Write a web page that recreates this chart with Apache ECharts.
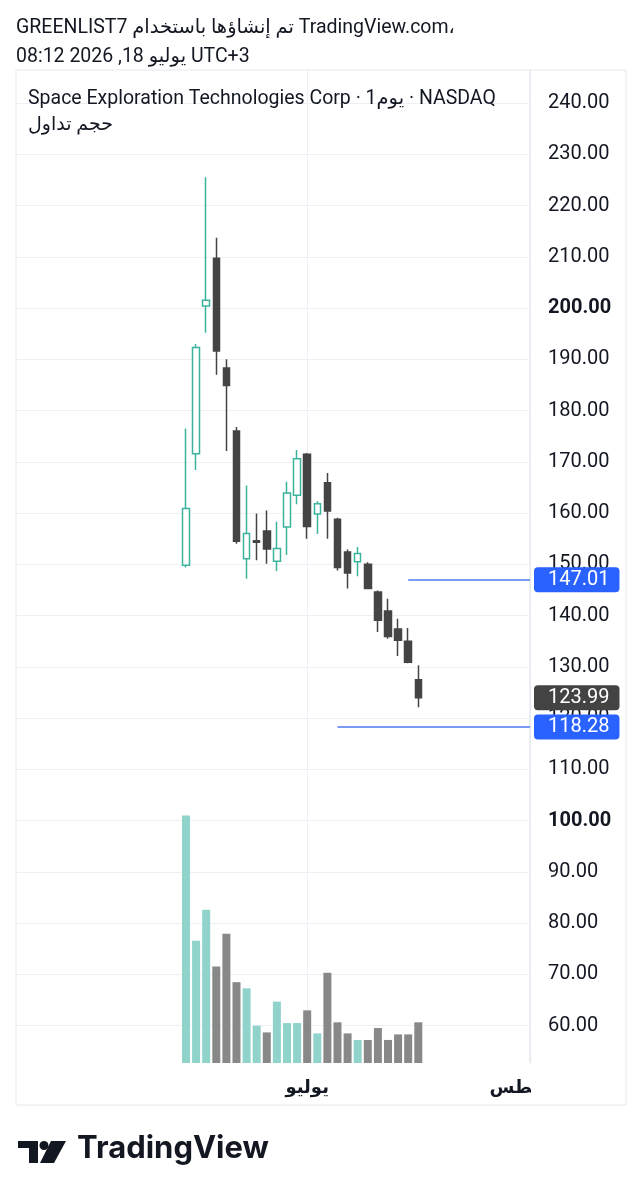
<!DOCTYPE html>
<html>
<head>
<meta charset="utf-8">
<script src="https://cdn.jsdelivr.net/npm/echarts@6/dist/echarts.min.js"></script>
<style>
  html, body { margin: 0; padding: 0; background: #fff; }
  #chart { width: 642px; height: 1200px; }
</style>
</head>
<body>
<div id="chart"></div>
<script>
// daily candles, index 0 = 2026-06-12
const dates = ['06-12','06-15','06-16','06-17','06-18','06-22','06-23','06-24','06-25','06-26','06-29','06-30',
               '07-01','07-02','07-06','07-07','07-08','07-09','07-10','07-13','07-14','07-15','07-16','07-17'];
const opens  = [149.8,171.6,200.4,209.7,188.3,176.0,151.1,154.6,156.5,150.6,157.3,163.5,171.5,159.8,165.9,158.8,152.4,150.5,150.0,144.6,140.9,137.4,135.0,127.5];
const closes = [160.9,192.3,201.5,191.6,184.9,154.5,156.0,154.3,153.0,153.1,163.9,170.6,157.4,161.8,160.4,149.4,148.3,152.1,145.3,139.1,135.9,135.2,130.9,123.99];
const lows   = [149.4,168.4,195.2,187.0,172.1,154.0,147.2,150.8,150.1,148.7,151.8,161.7,155.0,155.9,155.0,148.8,145.3,147.7,145.2,136.8,135.5,132.1,130.7,122.1];
const highs  = [176.5,193.0,225.5,213.7,190.0,176.8,165.4,159.9,160.5,158.3,166.1,172.3,171.7,162.3,167.8,159.1,152.9,153.4,150.4,144.9,143.3,139.4,137.6,130.3];
// volume (millions) and its up/down colour flag as shown by the volume study
const volumes  = [124.6,61.6,77.2,48.6,65.1,40.7,37.6,18.8,15.4,30.9,20.1,20.1,26.5,14.9,45.5,20.5,14.9,11.6,11.6,17.6,11.6,14.4,14.4,20.5];
const volumeUp = [1,1,1,0,0,0,1,1,0,1,1,1,0,1,0,0,0,1,0,0,0,0,0,0];

const priceTicks = [60,70,80,90,100,110,120,130,140,150,160,170,180,190,200,210,220,230,240];
const monthIdx   = [12, 34];            // 1 July, 3 August
const monthNames = ['يوليو', 'أغسطس'];

// horizontal ray levels and the candle they start from
const levels     = [147.01, 118.28];
const levelStart = [22, 15];

const xMin = -16.83, xMax = 34.06;
const FONT = 'Roboto, "DejaVu Sans", sans-serif';
const UP = '#3bb39d', DOWN = '#444444';

let myChart = echarts.init(document.getElementById('chart'));

let candleData = dates.map((d, i) => [i, opens[i], closes[i], lows[i], highs[i]]);
let volData = volumes.map((v, i) => ({
    value: [i, v],
    itemStyle: { color: volumeUp[i] ? '#8fd3cb' : '#888888' }
}));

let lastClose = closes[closes.length - 1];
let markData = levels.map((lv, k) => [
    { coord: [levelStart[k], lv], label: { formatter: lv.toFixed(2) } },
    { coord: [xMax, lv] }
]);
markData.push({
    yAxis: lastClose,
    lineStyle: { color: 'rgba(0,0,0,0)' },
    label: { formatter: lastClose.toFixed(2), backgroundColor: '#434343' }
});

let option = {
    animation: false,
    backgroundColor: '#ffffff',
    textStyle: { fontFamily: FONT },
    grid: { left: 16, right: 112, top: 70, bottom: 137 },
    xAxis: {
        type: 'value',
        min: xMin,
        max: xMax,
        axisLine: { show: false, onZero: false },
        axisTick: { show: false, customValues: monthIdx },
        splitLine: { show: true, lineStyle: { color: '#eef0f5', width: 1 } },
        axisLabel: {
            customValues: monthIdx,
            margin: 16,
            fontSize: 18,
            fontWeight: 'bold',
            color: '#131722',
            fontFamily: FONT,
            formatter: function (v) { return monthNames[monthIdx.indexOf(v)]; }
        }
    },
    yAxis: [
        {
            type: 'value',
            position: 'right',
            min: 52.72,
            max: 246.44,
            axisLine: { show: true, onZero: false, lineStyle: { color: '#e6e8ee' } },
            axisTick: { show: false, customValues: priceTicks },
            splitLine: { show: true, lineStyle: { color: '#eef0f5', width: 1 } },
            axisLabel: {
                customValues: priceTicks,
                margin: 18,
                fontSize: 20,
                color: '#131722',
                fontFamily: FONT,
                formatter: function (v) {
                    let s = v.toFixed(2);
                    return v % 100 === 0 ? '{b|' + s + '}' : s;
                },
                rich: { b: { fontSize: 20, fontWeight: 'bold', color: '#131722', fontFamily: FONT } }
            }
        },
        {
            type: 'value',
            min: 0,
            max: 500,
            show: false,
            axisLine: { show: false, onZero: false },
            splitLine: { show: false }
        }
    ],
    series: [
        {
            name: 'حجم تداول',
            type: 'bar',
            yAxisIndex: 1,
            barWidth: 8,
            data: volData
        },
        {
            name: 'SPCX',
            type: 'candlestick',
            barWidth: 7,
            encode: { x: 0, y: [1, 2, 3, 4] },
            data: candleData,
            itemStyle: {
                color: '#ffffff',
                color0: DOWN,
                borderColor: UP,
                borderColor0: DOWN,
                borderWidth: 1.5
            },
            markLine: {
                silent: true,
                symbol: ['none', 'none'],
                lineStyle: { color: '#4f78f2', width: 1.5, type: 'solid' },
                label: {
                    show: true,
                    position: 'end',
                    distance: 4,
                    color: '#ffffff',
                    fontSize: 20,
                    fontFamily: FONT,
                    backgroundColor: '#2962ff',
                    padding: [3, 10, 2, 14],
                    borderRadius: 4
                },
                data: markData
            }
        }
    ],
    graphic: [
        // outer frame of the chart pane
        { type: 'rect', shape: { x: 16, y: 70, width: 610, height: 1035 }, style: { fill: 'none', stroke: '#e6e8ee', lineWidth: 1 }, z: 1 },
        // time scale is cut at the price scale
        { type: 'rect', shape: { x: 531, y: 1066, width: 94, height: 38 }, style: { fill: '#ffffff' }, z: 50 },
        { type: 'text', left: 16, top: 18, style: { text: 'GREENLIST7 تم إنشاؤها باستخدام TradingView.com،', fontSize: 19.5, fill: '#131722', fontFamily: FONT } },
        { type: 'text', left: 16, top: 47, style: { text: '08:12 2026 ,18 يوليو UTC+3', fontSize: 19.5, fill: '#131722', fontFamily: FONT } },
        { type: 'text', left: 28, top: 89, z: 10, style: { text: 'Space Exploration Technologies Corp · 1يوم · NASDAQ', fontSize: 19.5, fill: '#131722', fontFamily: FONT } },
        { type: 'text', left: 28, top: 116, z: 10, style: { text: 'حجم تداول', fontSize: 19, fill: '#131722', fontFamily: FONT } },
        // TradingView logo
        { type: 'rect', shape: { x: 18, y: 1141, width: 20, height: 7 }, style: { fill: '#131722' } },
        { type: 'rect', shape: { x: 29, y: 1141, width: 9, height: 22 }, style: { fill: '#131722' } },
        { type: 'circle', shape: { cx: 44, cy: 1145.5, r: 4.5 }, style: { fill: '#131722' } },
        { type: 'polygon', shape: { points: [[51, 1141], [66, 1141], [54, 1163], [40, 1163]] }, style: { fill: '#131722' } },
        { type: 'text', left: 77, top: 1133, style: { text: 'TradingView', fontSize: 31, fontWeight: 'bold', fill: '#131722', fontFamily: 'Inter, Roboto, sans-serif' } }
    ]
};

myChart.setOption(option);
window.addEventListener('resize', function () { myChart.resize(); });
</script>
</body>
</html>
